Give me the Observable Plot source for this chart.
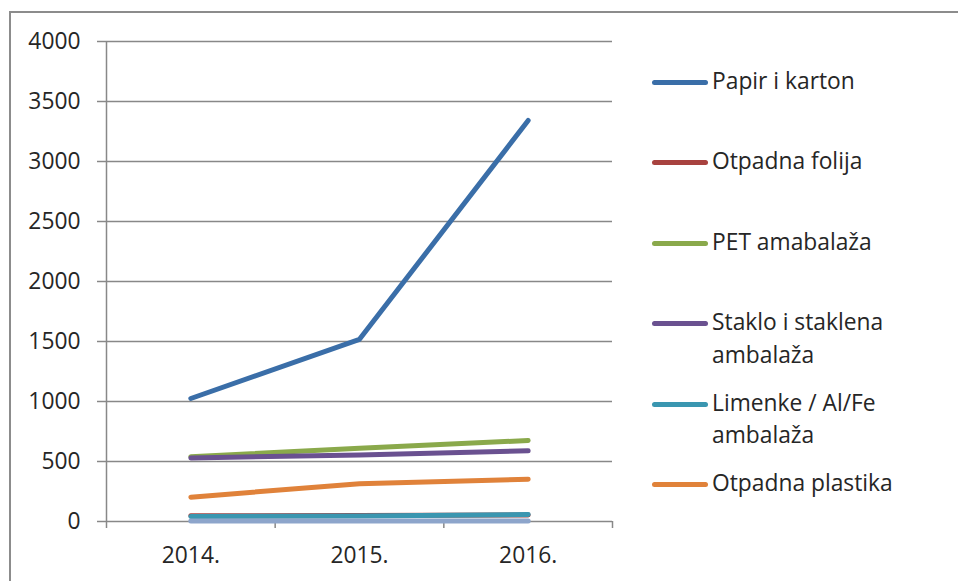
<!DOCTYPE html>
<html>
<head>
<meta charset="utf-8">
<script src="https://cdn.jsdelivr.net/npm/d3@7"></script>
<script src="https://cdn.jsdelivr.net/npm/@observablehq/plot@0.6"></script>
<style>
  html, body { margin: 0; padding: 0; width: 958px; height: 581px; overflow: hidden; background: #fff; }
  body { position: relative; font-family: "Open Sans", sans-serif; color: #262626; }
  #frame { position: absolute; left: 9px; top: 11px; width: 2000px; height: 2000px;
           border-left: 2px solid #8c8c8c; border-top: 2px solid #8c8c8c; box-sizing: border-box; }
  #chart { position: absolute; left: 0; top: 0; }
  #legend { position: absolute; left: 0; top: 0; }
  .item { position: absolute; left: 652px; font-size: 22.8px; line-height: 32.5px; white-space: nowrap; }
  .sw { position: absolute; left: 0; top: 14px; width: 56px; height: 5px; border-radius: 3px; }
  .lab { position: absolute; left: 60px; top: -1px; }
</style>
</head>
<body>
<div id="frame"></div>
<div id="chart"></div>
<div id="legend"></div>
<script>
// ---- data ----
const years = ["2014.", "2015.", "2016."];
const seriesNames = ["Papir i karton", "Otpadna folija", "PET amabalaža", "Staklo i staklena<br>ambalaža", "Limenke / Al/Fe<br>ambalaža", "Otpadna plastika", "ostalo"];
const seriesColors = ["#3a6ea8", "#a8423f", "#8aa94b", "#6a5190", "#3a96b0", "#e0823a", "#8da5cb"];
const papir = [1025, 1518, 3342];
const folija = [48, 50, 54];
const pet = [540, 610, 675];
const staklo = [530, 555, 589];
const limenke = [42, 46, 58];
const plastika = [203, 315, 353];
const ostalo = [5, 5, 5];
const yTicks = [0, 500, 1000, 1500, 2000, 2500, 3000, 3500, 4000];
const legendShown = [0, 1, 2, 3, 4, 5];

const allSeries = [papir, folija, pet, staklo, limenke, plastika, ostalo];
const rows = [];
allSeries.forEach((vals, s) => vals.forEach((v, i) => rows.push({s, i, v})));

const chart = Plot.plot({
  width: 620,
  height: 581,
  marginLeft: 106,
  marginRight: 8,
  marginTop: 41,
  marginBottom: 60,
  style: {fontFamily: "'Open Sans', sans-serif", fontSize: "22.8px", color: "#262626", background: "transparent"},
  x: {type: "linear", domain: [0, 3]},
  y: {domain: [0, 4000]},
  marks: [
    Plot.ruleY(yTicks, {stroke: "#888", strokeWidth: 1.5}),
    Plot.ruleX([0], {stroke: "#888", strokeWidth: 1.5}),
    Plot.axisY({ticks: yTicks, tickSize: 9, tickPadding: 17, stroke: "#888", strokeWidth: 1.5, fill: "#262626", tickFormat: d => String(d), label: null}),
    Plot.axisX({ticks: [0, 1, 2, 3], tickSize: 7, tickFormat: () => "", stroke: "#888", strokeWidth: 1.5, label: null}),
    Plot.axisX({ticks: [0.5, 1.5, 2.5], tickSize: 0, tickPadding: 25, tickFormat: d => years[Math.floor(d)], fill: "#262626", label: null}),
    Plot.line(rows, {
      x: d => d.i + 0.5, y: "v", z: "s",
      stroke: d => seriesColors[d.s],
      strokeWidth: 5, strokeLinecap: "round", strokeLinejoin: "round"
    })
  ]
});
document.getElementById("chart").appendChild(chart);

const legend = document.getElementById("legend");
legendShown.forEach((s, k) => {
  const it = document.createElement("div");
  it.className = "item";
  it.style.top = (66 + k * 80.4) + "px";
  it.innerHTML = `<span class="sw" style="background:${seriesColors[s]}"></span><span class="lab">${seriesNames[s]}</span>`;
  legend.appendChild(it);
});
</script>
</body>
</html>
